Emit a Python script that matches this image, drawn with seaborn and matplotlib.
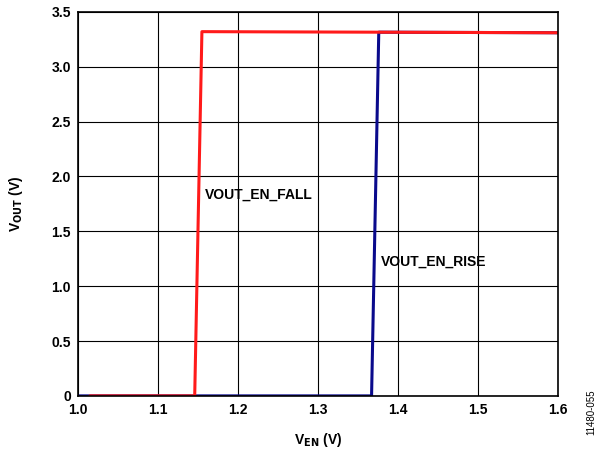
import matplotlib.pyplot as plt
import pandas as pd
import seaborn as sns

# V_EN sweep points
ven_fall = [1.015, 1.146, 1.155, 1.60]
vout_fall = [0.0, 0.0, 3.32, 3.31]
ven_rise = [1.00, 1.367, 1.376, 1.60]
vout_rise = [0.0, 0.0, 3.315, 3.31]

df = pd.concat([
    pd.DataFrame({'ven': ven_rise, 'vout': vout_rise, 'curve': 'VOUT_EN_RISE'}),
    pd.DataFrame({'ven': ven_fall, 'vout': vout_fall, 'curve': 'VOUT_EN_FALL'}),
])

sns.set_theme(style="white")
plt.rcParams['font.family'] = ['Liberation Sans', 'DejaVu Sans']
plt.rcParams['font.weight'] = 'bold'
plt.rcParams['text.color'] = 'black'
plt.rcParams['axes.labelcolor'] = 'black'
plt.rcParams['xtick.color'] = 'black'
plt.rcParams['ytick.color'] = 'black'

fig = plt.figure(figsize=(5.99, 4.54), dpi=100)
ax = fig.add_axes([0.130, 0.128, 0.8016, 0.8458])
sns.lineplot(data=df, x='ven', y='vout', hue='curve', sort=False,
             palette={'VOUT_EN_RISE': '#0a0a8c', 'VOUT_EN_FALL': '#ff1a1a'},
             linewidth=2.2, legend=False, ax=ax, estimator=None)

ax.set_xlim(1.0, 1.6)
ax.set_ylim(0, 3.5)
xt = [1.0, 1.1, 1.2, 1.3, 1.4, 1.5, 1.6]
yt = [0, 0.5, 1.0, 1.5, 2.0, 2.5, 3.0, 3.5]
ax.set_xticks(xt)
ax.set_yticks(yt)
ax.set_xticklabels([f'{v:.1f}' for v in xt], fontsize=10, fontweight='bold')
ax.set_yticklabels(['0'] + [f'{v:.1f}' for v in yt[1:]], fontsize=10, fontweight='bold')
ax.grid(True, color='black', linewidth=0.8)
for s in ax.spines.values():
    s.set_color('black')
    s.set_linewidth(1.2)
ax.tick_params(length=0, pad=5)

ax.set_xlabel(r'V$_{\mathbf{EN}}$ (V)', fontsize=10, fontweight='bold', labelpad=10)
ax.set_ylabel(r'V$_{\mathbf{OUT}}$ (V)', fontsize=10, fontweight='bold', labelpad=19)

ax.text(1.159, 1.83, 'VOUT_EN_FALL', fontsize=10, fontweight='bold', va='center')
ax.text(1.379, 1.22, 'VOUT_EN_RISE', fontsize=10, fontweight='bold', va='center')
fig.text(0.988, 0.092, '11480-055', rotation=90, fontsize=7, ha='center', va='center',
         fontweight='normal')

plt.savefig('out.png', dpi=100)
